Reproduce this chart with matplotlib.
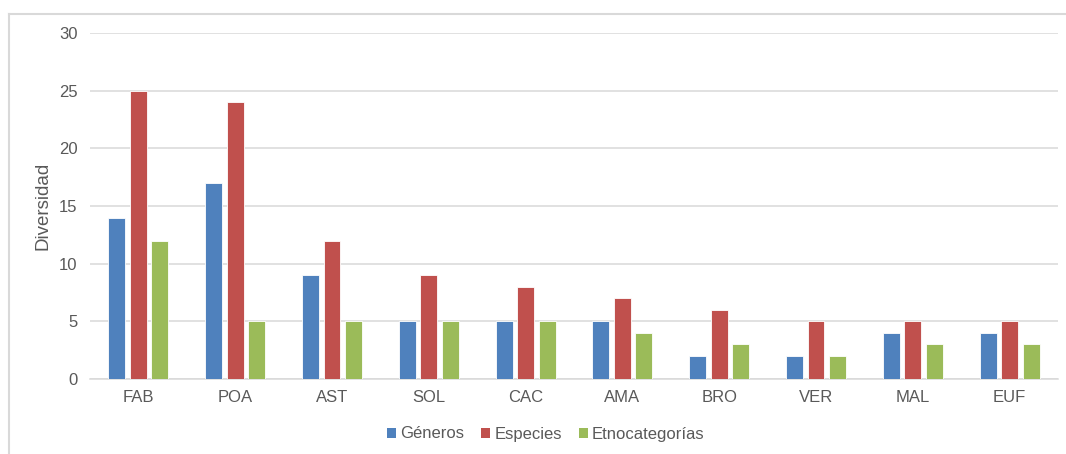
import numpy as np
import matplotlib.pyplot as plt
from matplotlib.patches import Patch
from matplotlib.lines import Line2D

plt.rcParams['font.family'] = ['Liberation Sans', 'DejaVu Sans']

familias = ["FAB", "POA", "AST", "SOL", "CAC", "AMA", "BRO", "VER", "MAL", "EUF"]
generos = [14, 17, 9, 5, 5, 5, 2, 2, 4, 4]
especies = [25, 24, 12, 9, 8, 7, 6, 5, 5, 5]
etnocategorias = [12, 5, 5, 5, 5, 4, 3, 2, 3, 3]

series = [("Géneros", generos, "#4F81BD"),
          ("Especies", especies, "#C0504D"),
          ("Etnocategorías", etnocategorias, "#9BBB59")]

color_text = "#595959"
color_grid = "#D9D9D9"

fig = plt.figure(figsize=(10.66, 4.54), dpi=100)
ax = fig.add_axes([0.0844, 0.1652, 0.9081, 0.7621])

# marco exterior del gráfico (solo superior e izquierdo visibles)
fig.add_artist(Line2D([9/1066, 1.0], [1 - 14/454] * 2, color="#D9D9D9", lw=1.5,
                      transform=fig.transFigure))
fig.add_artist(Line2D([9/1066] * 2, [0.0, 1 - 14/454], color="#D9D9D9", lw=1.5,
                      transform=fig.transFigure))

x = np.arange(len(familias))
width = 0.175
step = 0.222
handles = []
for i, (nombre, valores, color) in enumerate(series):
    ax.bar(x + (i - 1) * step, valores, width, color=color,
           edgecolor="white", linewidth=0.6, zorder=3)
    handles.append(Patch(facecolor=color, edgecolor="none", label=nombre))

ax.set_xlim(-0.5, len(familias) - 0.5)
ax.set_ylim(0, 30)
ax.set_yticks(range(0, 31, 5))
ax.set_xticks(x)
ax.set_xticklabels(familias)

ax.yaxis.grid(True, color=color_grid, lw=1.1, zorder=0)
ax.set_axisbelow(True)
for s in ["top", "right", "left"]:
    ax.spines[s].set_visible(False)
ax.spines["bottom"].set_color(color_grid)
ax.spines["bottom"].set_linewidth(1.1)
ax.tick_params(axis="both", length=0, labelsize=12, colors=color_text)
ax.tick_params(axis="y", pad=9)
ax.tick_params(axis="x", pad=8)

ax.set_ylabel("Diversidad", fontsize=13.5, color=color_text, labelpad=5)

fig.legend(handles=handles, loc="center", bbox_to_anchor=(546/1066, 1 - 434/454),
           ncol=3, frameon=False, fontsize=12, labelcolor=color_text,
           handlelength=0.55, handleheight=0.55, handletextpad=0.25, columnspacing=1.0)

fig.savefig("out.png", dpi=100, facecolor="white")
